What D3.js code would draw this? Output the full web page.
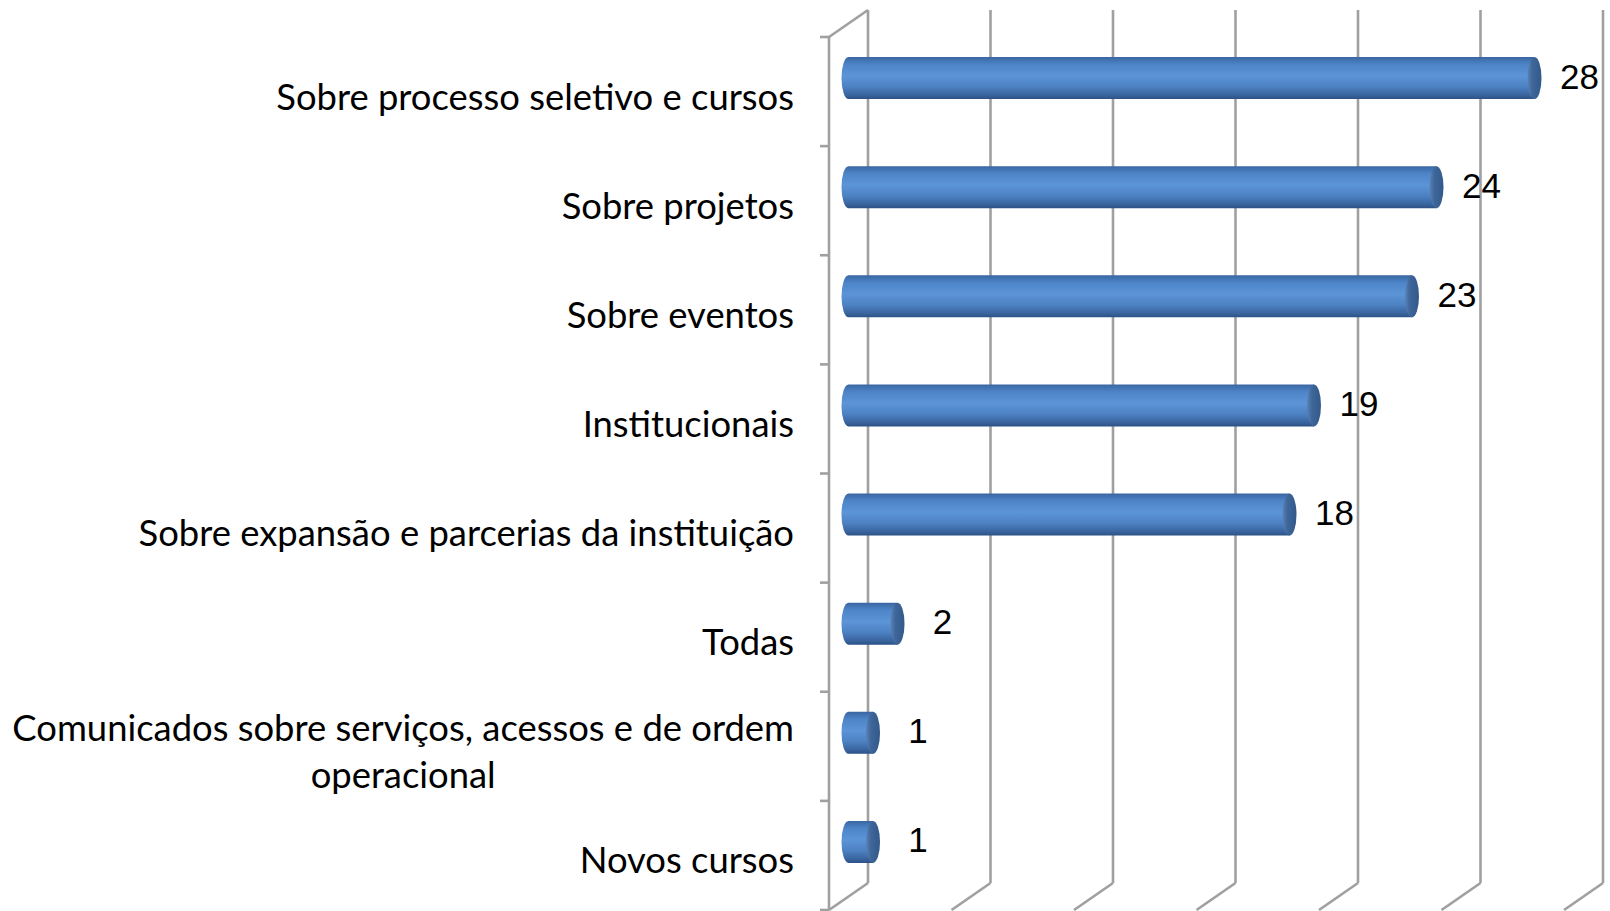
<!DOCTYPE html>
<html>
<head>
<meta charset="utf-8">
<script src="https://cdn.jsdelivr.net/npm/d3@7/dist/d3.min.js"></script>
<style>
  html, body { margin: 0; padding: 0; background: #ffffff; }
  svg { display: block; }
</style>
</head>
<body>
<svg id="chart" width="1610" height="911"></svg>
<script>
// ---- data ----
const categories = [
  "Sobre processo seletivo e cursos",
  "Sobre projetos",
  "Sobre eventos",
  "Institucionais",
  "Sobre expansão e parcerias da instituição",
  "Todas",
  "Comunicados sobre serviços, acessos e de ordem\noperacional",
  "Novos cursos"
];
const values = [28, 24, 23, 19, 18, 2, 1, 1];
const axisTicks = [0, 5, 10, 15, 20, 25, 30];

// ---- layout ----
const back = { left: 868, right: 1603, top: 10, bottom: 883 };
const depth = { dx: -39, dy: 27 };
const barDepth = 0.5;
const barH = 42, capRx = 7;
const gridColor = "#a0a0a0";

const svg = d3.select("#chart");
const defs = svg.append("defs");

const x = d3.scaleLinear().domain([0, 30]).range([back.left, back.right]);
const y = d3.scaleBand().domain(categories).range([back.top, back.bottom]).padding(0);

// gradients
const bodyGrad = defs.append("linearGradient").attr("id", "bodyGrad")
  .attr("x1", 0).attr("y1", 0).attr("x2", 0).attr("y2", 1);
[["0%", "#3a66a2"], ["18%", "#4d85c8"], ["45%", "#5c94d8"], ["70%", "#4d82c3"], ["90%", "#3a659f"], ["100%", "#2c5186"]]
  .forEach(([o, c]) => bodyGrad.append("stop").attr("offset", o).attr("stop-color", c));
const capGrad = defs.append("linearGradient").attr("id", "capGrad")
  .attr("x1", 0).attr("y1", 0).attr("x2", 1).attr("y2", 0);
[["0%", "#5a82b6"], ["35%", "#3e6699"], ["100%", "#33598b"]]
  .forEach(([o, c]) => capGrad.append("stop").attr("offset", o).attr("stop-color", c));

// ---- back-wall gridlines and floor lines ----
const grid = svg.append("g").attr("stroke", gridColor).attr("stroke-width", 2.6).attr("fill", "none");
axisTicks.forEach(t => {
  grid.append("line").attr("x1", x(t)).attr("x2", x(t)).attr("y1", back.top).attr("y2", back.bottom);
  grid.append("line").attr("x1", x(t)).attr("y1", back.bottom)
    .attr("x2", x(t) + depth.dx).attr("y2", back.bottom + depth.dy);
});
// left wall: front axis + top diagonal
const fx = back.left + depth.dx;
grid.append("line").attr("x1", fx).attr("x2", fx)
  .attr("y1", back.top + depth.dy).attr("y2", back.bottom + depth.dy);
grid.append("line").attr("x1", fx).attr("y1", back.top + depth.dy)
  .attr("x2", back.left).attr("y2", back.top);
// category ticks on the front axis
const tickYs = categories.map(c => y(c) + depth.dy).concat([back.bottom + depth.dy]);
tickYs.forEach(ty => {
  grid.append("line").attr("x1", fx - 9).attr("x2", fx).attr("y1", ty).attr("y2", ty);
});

// ---- cylinders ----
const offX = depth.dx * barDepth, offY = depth.dy * barDepth;
const bars = svg.append("g");
categories.forEach((c, i) => {
  const v = values[i];
  const x0 = x(0) + offX, x1 = x(v) + offX;
  const cy = y(c) + y.bandwidth() / 2 + offY;
  const top = cy - barH / 2, bot = cy + barH / 2;
  const g = bars.append("g");
  g.append("path")
    .attr("d", `M${x0},${top} L${x1},${top} L${x1},${bot} L${x0},${bot} A${capRx},${barH / 2} 0 0 1 ${x0},${top} Z`)
    .attr("fill", "url(#bodyGrad)");
  g.append("ellipse")
    .attr("cx", x1).attr("cy", cy).attr("rx", capRx).attr("ry", barH / 2)
    .attr("fill", "url(#capGrad)");
  // value label
  svg.append("text")
    .attr("x", x1 + 45).attr("y", cy - 2)
    .attr("text-anchor", "middle").attr("dominant-baseline", "central")
    .attr("font-family", "'Liberation Sans', Arial, sans-serif")
    .attr("font-size", 35).attr("fill", "#000")
    .text(v);
});

// ---- category labels ----
const labelRight = 794;
const lineH = 47;
const labels = svg.append("g")
  .attr("font-family", "Lato, 'Open Sans', sans-serif")
  .attr("font-size", 36.4).attr("fill", "#000");
categories.forEach(c => {
  const lines = c.split("\n");
  const cyFront = y(c) + y.bandwidth() / 2 + depth.dy + 4;
  const t = labels.append("text").attr("dominant-baseline", "central");
  const spans = lines.map(ln => t.append("tspan").text(ln));
  const widths = spans.map(s => s.node().getComputedTextLength());
  const maxW = d3.max(widths);
  const cx = labelRight - maxW / 2;
  const y0 = cyFront - (lines.length - 1) * lineH / 2;
  spans.forEach((s, k) => s.attr("x", cx).attr("y", y0 + k * lineH).attr("text-anchor", "middle"));
});
</script>
</body>
</html>
